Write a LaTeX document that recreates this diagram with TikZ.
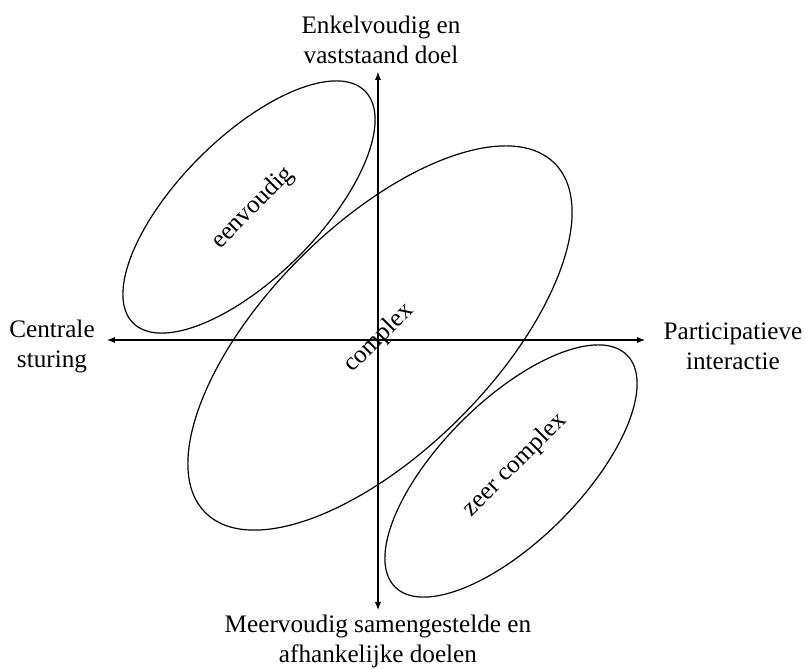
\documentclass[tikz,border=0pt]{standalone}
\usepackage{fontspec}
\setmainfont{Liberation Serif}
\usetikzlibrary{arrows.meta}
\tikzset{
  axis/.style={
    line width=0.6pt,
    {Latex[length=4pt,width=3.2pt]}-{Latex[length=4pt,width=3.2pt]}
  },
  blob/.style={
    line width=0.6pt
  },
  pole/.style={
    align=center,
    font=\fontsize{12.6}{15}\selectfont,
    inner sep=0pt
  },
  field/.style={
    rotate=45,
    font=\fontsize{12.6}{15}\selectfont,
    inner sep=1pt
  }
}

\begin{document}
\begin{tikzpicture}[x=0.5pt,y=0.5pt]
    \useasboundingbox (-378,-329) rectangle (427,340);
    \def\ra{82pt}
    \def\rb{35pt}
    \def\Ra{123.5pt}
    \def\Rb{56.5pt}
        % axes
        \coordinate (west) at (-271,0);
        \coordinate (east) at (267,0);
        \coordinate (south) at (0,-270);
        \coordinate (north) at (0,268);
        \draw[axis] (west) -- (east);
        \draw[axis] (south) -- (north);
        % ellipses
        \draw[blob, rotate around={45:(-129,133)}] (-129,133) ellipse [x radius=\ra, y radius=\rb];
        \draw[blob, rotate around={45:(2,2)}] (2,2) ellipse [x radius=\Ra, y radius=\Rb];
        \draw[blob, rotate around={45:(133,-131)}] (133,-131) ellipse [x radius=\ra, y radius=\rb];
        % labels
        \node[pole] (goal) at (3,300) {Enkelvoudig en\\vaststaand doel};
        \node[pole] (goals) at (0,-301) {Meervoudig samengestelde en\\afhankelijke doelen};
        \node[pole] (central) at (-326,-6) {Centrale\\sturing};
        \node[pole] (interact) at (355,-6) {Participatieve\\interactie};
        \node[field] (simple) at (-125,132) {eenvoudig};
        \node[field] (cplx) at (1,2) {complex};
        \node[field] (vcplx) at (137,-125) {zeer complex};
    \end{tikzpicture}
\end{document}
